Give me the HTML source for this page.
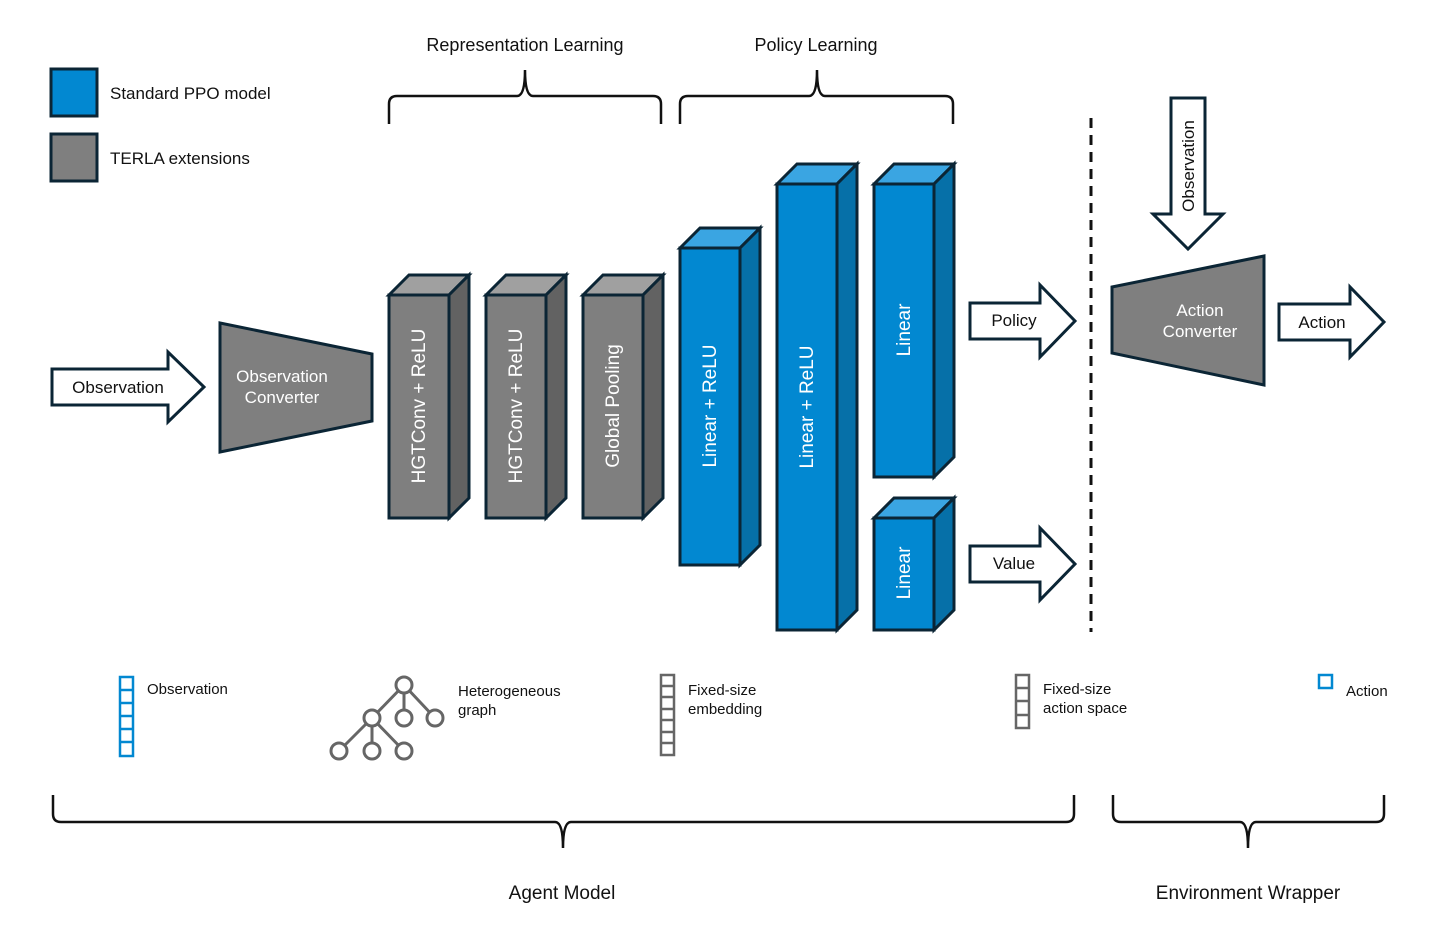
<!DOCTYPE html>
<html><head><meta charset="utf-8"><style>body{margin:0;background:#fff}svg{display:block}text{font-family:"Liberation Sans",sans-serif}</style></head><body>
<svg width="1450" height="926" viewBox="0 0 1450 926" xmlns="http://www.w3.org/2000/svg">
<g stroke="#0b2535" stroke-width="3" stroke-linejoin="miter">
<!-- legend -->
<rect x="51" y="69" width="46" height="47" fill="#0288d1"/>
<rect x="51" y="134" width="46" height="47" fill="#7f7f7f"/>
<!-- converters -->
<polygon points="220,323 372,354 372,421 220,452" fill="#7f7f7f"/>
<polygon points="1112,287 1264,256 1264,385 1112,353" fill="#7f7f7f"/>
<!-- arrows -->
<polygon points="52,369 168,369 168,352 204,387 168,422 168,405 52,405" fill="#fff"/>
<polygon points="970,303 1040,303 1040,285 1075,321 1040,357 1040,339 970,339" fill="#fff"/>
<polygon points="970,546 1040,546 1040,528 1075,564 1040,600 1040,582 970,582" fill="#fff"/>
<polygon points="1279,304 1350,304 1350,287 1384,322 1350,357 1350,340 1279,340" fill="#fff"/>
<polygon points="1171,98 1205,98 1205,214 1223,214 1188,249 1153,214 1171,214" fill="#fff"/>
</g>
<g stroke="#0b2535" stroke-width="3">
<!-- gray boxes -->
<polygon points="389,295 409,275 469,275 449,295" fill="#a0a0a0"/><polygon points="449,295 469,275 469,498 449,518" fill="#626262"/><rect x="389" y="295" width="60" height="223" fill="#7f7f7f"/>
<polygon points="486,295 506,275 566,275 546,295" fill="#a0a0a0"/><polygon points="546,295 566,275 566,498 546,518" fill="#626262"/><rect x="486" y="295" width="60" height="223" fill="#7f7f7f"/>
<polygon points="583,295 603,275 663,275 643,295" fill="#a0a0a0"/><polygon points="643,295 663,275 663,498 643,518" fill="#626262"/><rect x="583" y="295" width="60" height="223" fill="#7f7f7f"/>
<!-- blue boxes -->
<polygon points="680,248 700,228 760,228 740,248" fill="#3aa5e2"/><polygon points="740,248 760,228 760,545 740,565" fill="#0670a8"/><rect x="680" y="248" width="60" height="317" fill="#0288d1"/>
<polygon points="777,184 797,164 857,164 837,184" fill="#3aa5e2"/><polygon points="837,184 857,164 857,610 837,630" fill="#0670a8"/><rect x="777" y="184" width="60" height="446" fill="#0288d1"/>
<polygon points="874,184 894,164 954,164 934,184" fill="#3aa5e2"/><polygon points="934,184 954,164 954,457 934,477" fill="#0670a8"/><rect x="874" y="184" width="60" height="293" fill="#0288d1"/>
<polygon points="874,518 894,498 954,498 934,518" fill="#3aa5e2"/><polygon points="934,518 954,498 954,610 934,630" fill="#0670a8"/><rect x="874" y="518" width="60" height="112" fill="#0288d1"/>
</g>
<line x1="1091" y1="118" x2="1091" y2="632" stroke="#111" stroke-width="3" stroke-dasharray="10,7"/>
<!-- braces -->
<g fill="none" stroke="#111" stroke-width="2.5">
<path d="M389,124 V104 Q389,96 397,96 H517 Q525,96 525,70 Q525,96 533,96 H653 Q661,96 661,104 V124"/>
<path d="M680,124 V104 Q680,96 688,96 H809 Q817,96 817,70 Q817,96 825,96 H945 Q953,96 953,104 V124"/>
<path d="M53,795 V814 Q53,822 61,822 H555 Q563,822 563,848 Q563,822 571,822 H1066 Q1074,822 1074,814 V795"/>
<path d="M1113,795 V814 Q1113,822 1121,822 H1240 Q1248,822 1248,848 Q1248,822 1256,822 H1376 Q1384,822 1384,814 V795"/>
</g>
<!-- bottom icons -->
<g fill="none" stroke-width="2.5">
<g stroke="#0288d1"><rect x="120" y="677" width="13" height="79"/><path d="M120,690H133M120,703H133M120,716H133M120,729H133M120,742H133"/><rect x="1319" y="675" width="13" height="13"/></g>
<g stroke="#666"><rect x="661" y="675" width="13" height="80"/><path d="M661,686H674M661,697H674M661,709H674M661,720H674M661,732H674M661,743H674"/>
<rect x="1016" y="675" width="13" height="53"/><path d="M1016,688H1029M1016,701H1029M1016,715H1029"/>
<path d="M404,685L372,718M404,685V718M404,685L435,718M372,718L339,751M372,718V751M372,718L404,751" stroke-width="3"/>
<g fill="#fff" stroke-width="3"><circle cx="404" cy="685" r="8"/><circle cx="372" cy="718" r="8"/><circle cx="404" cy="718" r="8"/><circle cx="435" cy="718" r="8"/><circle cx="339" cy="751" r="8"/><circle cx="372" cy="751" r="8"/><circle cx="404" cy="751" r="8"/></g></g>
</g>
<!-- texts -->
<g font-size="17" fill="#111">
<text x="110" y="99">Standard PPO model</text>
<text x="110" y="164">TERLA extensions</text>
<text x="525" y="51" text-anchor="middle" font-size="18">Representation Learning</text>
<text x="816" y="51" text-anchor="middle" font-size="18">Policy Learning</text>
<text x="118" y="393" text-anchor="middle">Observation</text>
<text x="1014" y="326" text-anchor="middle">Policy</text>
<text x="1014" y="569" text-anchor="middle">Value</text>
<text x="1322" y="328" text-anchor="middle">Action</text>
<text transform="translate(1194,166) rotate(-90)" text-anchor="middle">Observation</text>
<text x="562" y="899" text-anchor="middle" font-size="19">Agent Model</text>
<text x="1248" y="899" text-anchor="middle" font-size="19">Environment Wrapper</text>
</g>
<g font-size="15" fill="#111">
<text x="147" y="694">Observation</text>
<text x="458" y="696">Heterogeneous</text><text x="458" y="715">graph</text>
<text x="688" y="695">Fixed-size</text><text x="688" y="714">embedding</text>
<text x="1043" y="694">Fixed-size</text><text x="1043" y="713">action space</text>
<text x="1346" y="696">Action</text>
</g>
<g fill="#fff" font-size="17" text-anchor="middle">
<text x="282" y="382">Observation</text><text x="282" y="403">Converter</text>
<text x="1200" y="316">Action</text><text x="1200" y="337">Converter</text>
</g>
<g fill="#fff" font-size="19" text-anchor="middle">
<text transform="translate(425,406) rotate(-90)">HGTConv + ReLU</text>
<text transform="translate(522,406) rotate(-90)">HGTConv + ReLU</text>
<text transform="translate(619,406) rotate(-90)">Global Pooling</text>
<text transform="translate(716,406) rotate(-90)">Linear + ReLU</text>
<text transform="translate(813,407) rotate(-90)">Linear + ReLU</text>
<text transform="translate(910,330) rotate(-90)">Linear</text>
<text transform="translate(910,573) rotate(-90)">Linear</text>
</g>
</svg>
</body></html>
